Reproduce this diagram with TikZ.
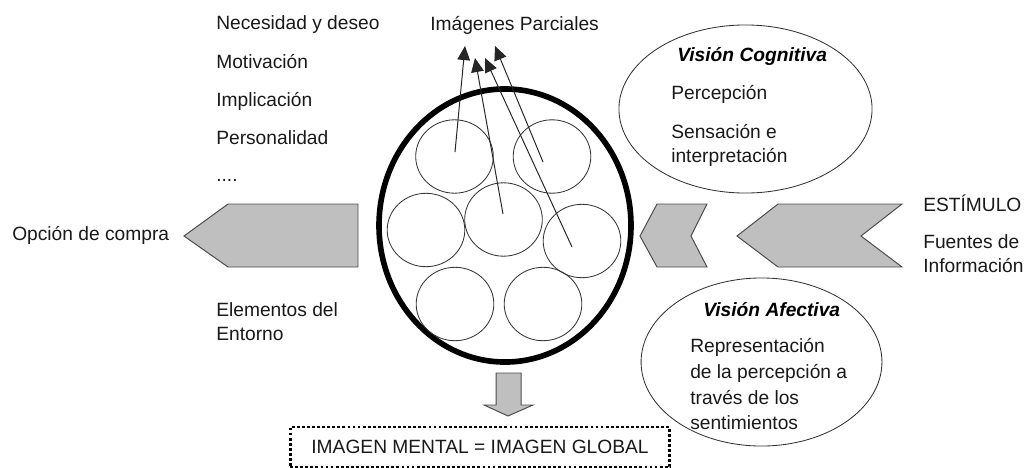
\documentclass[tikz,border=0pt]{standalone}
\usepackage{fontspec}
\setmainfont{Liberation Sans}
\usetikzlibrary{arrows.meta,shapes.geometric}
\definecolor{flechagris}{gray}{0.75}
\definecolor{bordegris}{gray}{0.3}
\tikzset{
    etiqueta/.style={anchor=west,inner sep=0pt,font=\fontsize{13.65}{16}\selectfont,text=black!90},
    titulo/.style={etiqueta,font=\fontsize{13.65}{16}\selectfont\bfseries\itshape,text=black},
    flecha/.style={fill=flechagris,draw=bordegris,line width=0.7pt},
    parcial/.style={draw=black!80,line width=0.6pt,fill=none,ellipse,inner sep=0pt,minimum width=55.2pt,minimum height=52.2pt},
    rayo/.style={draw=black!85,line width=0.7pt,-{Triangle[length=10pt,width=9pt]}},
    vision/.style={draw=black!80,line width=0.6pt,ellipse,inner sep=0pt}
}
\begin{document}
\begin{tikzpicture}[x=0.025cm,y=-0.025cm]
    \useasboundingbox (0,0) rectangle (1024,467);

    % Flechas grises
    \draw[flecha] (358,204) -- (358,267) -- (228,267) -- (184,236) -- (228,204) -- cycle;
    \draw[flecha] (707,204) -- (691,236) -- (707,267) -- (657,267) -- (640,236) -- (657,204) -- cycle;
    \draw[flecha] (902,204) -- (861,236) -- (902,267) -- (778,267) -- (737,236) -- (778,204) -- cycle;
    \draw[flecha] (496,373) -- (521,373) -- (521,405) -- (533,405) -- (508,416) -- (484,405) -- (496,405) -- cycle;

    % Imagen global y parciales
    \node[ellipse,draw=black,line width=4pt,inner sep=0pt,minimum width=179.2pt,minimum height=194.2pt] (global) at (505,225.5) {};
    \foreach \x/\y/\nombre in {454.5/156.5/pa,552/156.5/pb,503.5/219.5/pc,426/230/pd,582/241/pe,455/304/pf,543/304/pg} {
        \node[parcial] (\nombre) at (\x,\y) {};
    }

    % Rayos hacia las imagenes parciales
    \coordinate (ra) at (455,152);
    \coordinate (rb) at (503,214);
    \coordinate (rc) at (572,247);
    \coordinate (rd) at (543,162);
    \coordinate (ta) at (465,46);
    \coordinate (tb) at (475,58);
    \coordinate (tc) at (485,58);
    \coordinate (td) at (495,46);
    \draw[rayo] (ra) -- (ta);
    \draw[rayo] (rb) -- (tb);
    \draw[rayo] (rc) -- (tc);
    \draw[rayo] (rd) -- (td);

    % Visiones
    \node[vision,minimum width=180pt,minimum height=119.5pt] (cognitiva) at (745.5,109) {};
    \node[vision,minimum width=171.3pt,minimum height=119.5pt] (afectiva) at (761.5,362) {};
    \node[titulo] (tcog) at (677,56) {Visión Cognitiva};
    \node[etiqueta] (perc) at (671,94) {Percepción};
    \node[etiqueta] (sens) at (671,132) {Sensación e};
    \node[etiqueta] (inte) at (671,157) {interpretación};
    \node[titulo] (tafe) at (703,310) {Visión Afectiva};
    \node[etiqueta] (repr) at (690,347) {Representación};
    \node[etiqueta] (dela) at (690,373) {de la percepción a};
    \node[etiqueta] (trav) at (690,398) {través de los};
    \node[etiqueta] (sent) at (690,423) {sentimientos};

    % Textos sueltos
    \node[etiqueta] (nece) at (216,25) {Necesidad y deseo};
    \node[etiqueta] (moti) at (216,62) {Motivación};
    \node[etiqueta] (impl) at (216,101) {Implicación};
    \node[etiqueta] (pers) at (216,138) {Personalidad};
    \node[etiqueta] (punt) at (216,180) {....};
    \node[etiqueta] (parc) at (430,25) {Imágenes Parciales};
    \node[etiqueta] (opci) at (12,235) {Opción de compra};
    \node[etiqueta] (ento) at (216,310) {Elementos del};
    \node[etiqueta] (entb) at (216,334) {Entorno};
    \node[etiqueta] (esti) at (923,203) {ESTÍMULO};
    \node[etiqueta] (fuen) at (923,242) {Fuentes de};
    \node[etiqueta] (info) at (923,266) {Información};

    % Recuadro final
    \node[etiqueta,anchor=center,draw=black,line width=2pt,dash pattern=on 2pt off 1.6pt,minimum width=270pt,minimum height=28.4pt,text depth=0pt] (mental) at (480,447) {IMAGEN MENTAL = IMAGEN GLOBAL};
\end{tikzpicture}
\end{document}
